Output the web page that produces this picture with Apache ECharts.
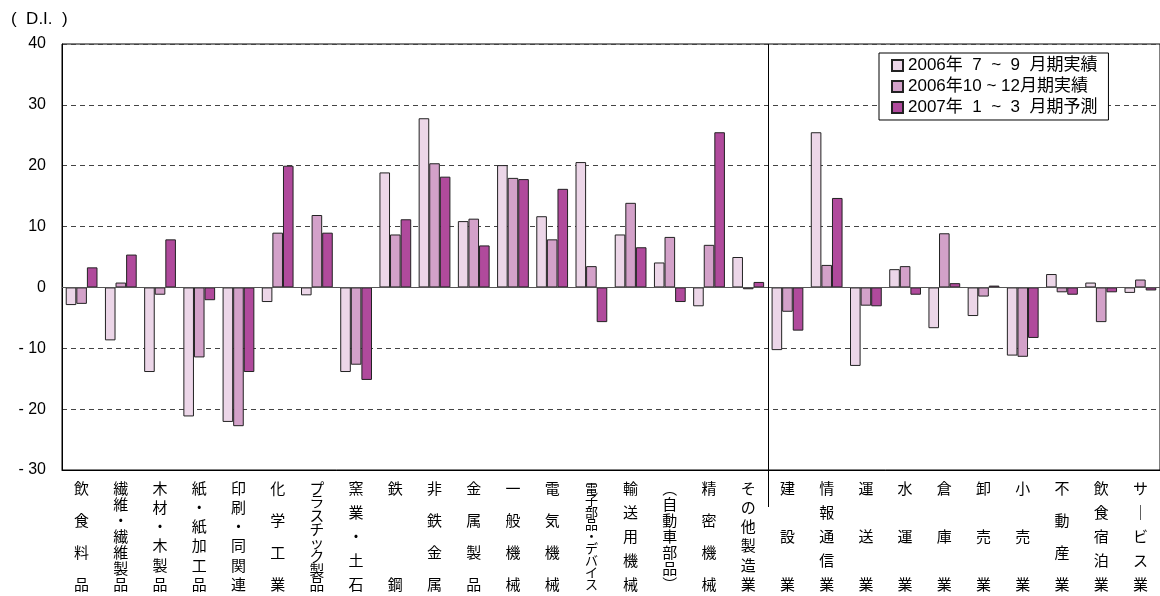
<!DOCTYPE html>
<html>
<head>
<meta charset="utf-8">
<title>D.I.</title>
<script src="https://cdn.jsdelivr.net/npm/echarts@6/dist/echarts.min.js"></script>
<style>
  html, body { margin: 0; padding: 0; background: #fff; }
  #chart { width: 1160px; height: 596px; }
</style>
</head>
<body>
<div id="chart"></div>
<script>
// 業種（製造業18 + 非製造業10）
const categories = [
  '飲食料品', '繊維・繊維製品', '木材・木製品', '紙・紙加工品', '印刷・同関連',
  '化学工業', 'プラスチック製品', '窯業・土石', '鉄鋼', '非鉄金属',
  '金属製品', '一般機械', '電気機械', '電子部品・デバイス', '輸送用機械',
  '︵自動車部品︶', '精密機械', 'その他製造業',
  '建設業', '情報通信業', '運送業', '水運業', '倉庫業',
  '卸売業', '小売業', '不動産業', '飲食宿泊業', 'サ｜ビス業'
]
const seriesNames = ['2006年  7  ~  9  月期実績', '2006年10 ~ 12月期実績', '2007年  1  ~  3  月期予測']

const jul2006 = [
  -2.9, -8.7, -13.9, -21.2, -22.1, -2.4, -1.3, -13.9, 18.9, 27.8,
  10.9, 20.1, 11.7, 20.6, 8.7, 4.1, -3.1, 5.0,
  -10.3, 25.5, -12.9, 3.0, -6.7, -4.7, -11.2, 2.2, 0.8, -0.9
]
const oct2006 = [
  -2.7, 0.8, -1.2, -11.5, -22.8, 9.0, 11.9, -12.7, 8.7, 20.4,
  11.3, 18.0, 7.9, 3.5, 13.9, 8.3, 7.0, -0.3,
  -4.0, 3.7, -3.0, 3.5, 8.9, -1.5, -11.4, -0.8, -5.7, 1.3
]
const jan2007 = [
  3.3, 5.4, 7.9, -2.1, -13.9, 20.0, 9.0, -15.2, 11.2, 18.2,
  6.9, 17.8, 16.2, -5.7, 6.6, -2.4, 25.5, 0.9,
  -7.1, 14.7, -3.1, -1.2, 0.7, 0.3, -8.3, -1.2, -0.8, -0.5
]
const colors = ['#ecd6e8', '#d3a1c9', '#b04a9c']

// 縦書きラベル：文字数に応じて行間を詰める
const rich = {}
for (let n = 2; n <= 9; n++) {
  const lh = 96 / (n - 1)
  rich['r' + n] = {
    lineHeight: lh,
    fontSize: Math.min(15, lh + 1),
    fontFamily: '"Noto Sans CJK JP", sans-serif',
    color: '#000',
    align: 'center'
  }
}
function verticalLabel(v) {
  const chars = Array.from(v)
  return '{r' + chars.length + '|' + chars.join('\n') + '}'
}

const chart = echarts.init(document.getElementById('chart'))

function barSeries(name, data, i) {
  return {
    name,
    type: 'bar',
    data,
    barGap: '0%',
    barCategoryGap: '19%',
    itemStyle: { color: colors[i], borderColor: '#222', borderWidth: 1 }
  }
}

const series = [
  barSeries(seriesNames[0], jul2006, 0),
  barSeries(seriesNames[1], oct2006, 1),
  barSeries(seriesNames[2], jan2007, 2)
]
series[0].markLine = {
  silent: true,
  symbol: 'none',
  label: { show: false },
  lineStyle: { color: '#555', type: 'solid', width: 1 },
  data: [{ yAxis: 0 }]
}

chart.setOption({
  backgroundColor: '#fff',
  animation: false,
  title: {
    text: '(  D.I.  )',
    left: 6,
    top: 6,
    textStyle: { fontSize: 17, fontWeight: 'normal', color: '#000', fontFamily: '"Liberation Sans", Arial, sans-serif' }
  },
  legend: {
    orient: 'vertical',
    left: 879,
    top: 53,
    data: seriesNames,
    backgroundColor: '#fff',
    borderColor: '#000',
    borderWidth: 1,
    borderRadius: 0,
    padding: [4, 11, 4, 12],
    itemGap: 4,
    itemWidth: 11,
    itemHeight: 11,
    icon: 'rect',
    textStyle: { fontSize: 17, color: '#000', fontFamily: '"Liberation Sans", "Noto Sans CJK JP", sans-serif' }
  },
  grid: { left: 62, right: -4, top: 44, bottom: 126, show: true, borderColor: '#000', borderWidth: 1 },
  xAxis: {
    type: 'category',
    data: categories,
    axisLine: { onZero: false, lineStyle: { color: '#000' } },
    axisTick: { show: false },
    axisLabel: {
      interval: 0,
      margin: 66,
      verticalAlign: 'middle',
      formatter: verticalLabel,
      rich
    }
  },
  yAxis: {
    type: 'value',
    min: -30,
    max: 40,
    interval: 10,
    axisLine: { show: true, lineStyle: { color: '#000' } },
    axisTick: { show: false },
    axisLabel: {
      margin: 16,
      fontSize: 16,
      color: '#000',
      fontFamily: '"Liberation Sans", Arial, sans-serif',
      formatter: v => (v < 0 ? '- ' + Math.abs(v) : String(v))
    },
    splitLine: { lineStyle: { color: '#444', type: [5, 4], width: 1 } }
  },
  series
})

// 製造業／非製造業の境界線
const xa = chart.convertToPixel({ xAxisIndex: 0 }, categories[17])
const xb = chart.convertToPixel({ xAxisIndex: 0 }, categories[18])
const xDiv = Math.round((xa + xb) / 2) + 0.5
const yTop = chart.convertToPixel({ yAxisIndex: 0 }, 40)
chart.setOption({
  graphic: [{
    type: 'line',
    shape: { x1: xDiv, y1: yTop, x2: xDiv, y2: 507 },
    style: { stroke: '#000', lineWidth: 1 },
    z: 10
  }]
})
</script>
</body>
</html>
